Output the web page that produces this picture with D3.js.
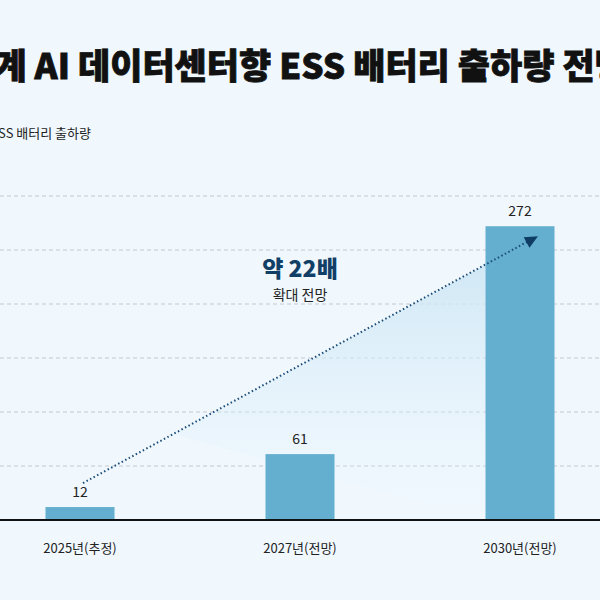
<!DOCTYPE html>
<html><head><meta charset="utf-8">
<script src="https://cdn.jsdelivr.net/npm/d3@7"></script>
<style>body{margin:0;background:#f0f8fe}</style>
</head><body><div id="app"></div>
<script>
const categories = ['2025년(추정)', '2027년(전망)', '2030년(전망)'];
const values = [12, 61, 272];
const gridValues = [50, 100, 150, 200, 250, 300];

const svg = d3.select('#app').append('svg')
  .attr('width', 600).attr('height', 600)
  .style('font-family', '"Noto Sans CJK KR", "Noto Sans", sans-serif');

svg.append('rect').attr('width', 600).attr('height', 600).attr('fill', '#f0f8fe');

const x = d3.scalePoint().domain(categories).range([-30, 630]).padding(0.5);
const y = d3.scaleLinear().domain([0, 300]).range([520, 196]);
const barW = 69;

// title (cropped at both edges like the original)
svg.append('text').attr('x', -70).attr('y', 79)
  .attr('font-size', 35).attr('font-weight', 900).attr('fill', '#111')
  .style('font-family', '"Noto Sans CJK KR Black", "Noto Sans CJK KR", sans-serif')
  .attr('stroke', '#111').attr('stroke-width', 0.8)
  .text('전세계 AI 데이터센터향 ESS 배터리 출하량 전망');

svg.append('text').attr('x', 91).attr('y', 138).attr('text-anchor', 'end')
  .attr('font-size', 13).attr('fill', '#222')
  .text('(GWh) ESS 배터리 출하량');

// grid
svg.selectAll('line.grid').data(gridValues).join('line')
  .attr('class', 'grid')
  .attr('x1', 0).attr('x2', 600)
  .attr('y1', d => y(d)).attr('y2', d => y(d))
  .attr('stroke', '#c4c9cd').attr('stroke-dasharray', '4,3');

const defs = svg.append('defs');
const grad = defs.append('linearGradient').attr('id', 'wedge')
  .attr('x1', 0).attr('y1', 0).attr('x2', 0).attr('y2', 1);
grad.append('stop').attr('offset', 0).attr('stop-color', '#cde6f4').attr('stop-opacity', 0.9);
grad.append('stop').attr('offset', 1).attr('stop-color', '#e4f2fb').attr('stop-opacity', 0);

const x0 = x(categories[0]) + 3, y0 = y(values[0]) - 24;
const x1 = x(categories[2]) + 18, y1 = y(values[2]) + 10;
const xb = x(categories[2]) - barW / 2;
const yb = y0 + (y1 - y0) * (xb - x0) / (x1 - x0);
svg.append('path')
  .attr('d', `M${x0 + 90},${y0 - 90 * (y0 - y1) / (x1 - x0)}L${xb},${yb}L${xb},${y(0)}Z`)
  .attr('fill', 'url(#wedge)');

// bars
svg.selectAll('rect.bar').data(values).join('rect')
  .attr('class', 'bar')
  .attr('x', (d, i) => x(categories[i]) - barW / 2)
  .attr('y', d => y(d)).attr('width', barW).attr('height', d => y(0) - y(d))
  .attr('fill', '#64aed0');

svg.selectAll('text.val').data(values).join('text')
  .attr('class', 'val').attr('text-anchor', 'middle')
  .attr('x', (d, i) => x(categories[i])).attr('y', d => y(d) - 10)
  .attr('font-size', 14).attr('fill', '#222').text(d => d);

// arrow over bars
svg.append('line').attr('x1', x0).attr('y1', y0).attr('x2', x1 - 6).attr('y2', y1 + 3)
  .attr('stroke', '#1b4c78').attr('stroke-width', 2).attr('stroke-dasharray', '1.5,2.5');
const ang = Math.atan2(y1 - y0, x1 - x0);
const tri = [[0, 0], [-13, -6], [-13, 6]].map(([a, b]) =>
  [x1 + a * Math.cos(ang) - b * Math.sin(ang), y1 + a * Math.sin(ang) + b * Math.cos(ang)]);
svg.append('path').attr('d', 'M' + tri.join('L') + 'Z').attr('fill', '#0f3c63');

// baseline
svg.append('line').attr('x1', 0).attr('x2', 600).attr('y1', y(0)).attr('y2', y(0))
  .attr('stroke', '#111').attr('stroke-width', 2);

svg.selectAll('text.cat').data(categories).join('text')
  .attr('class', 'cat').attr('text-anchor', 'middle')
  .attr('x', d => x(d)).attr('y', 553)
  .attr('font-size', 13).attr('fill', '#222').text(d => d);

// annotation
svg.append('text').attr('x', 300).attr('y', 277).attr('text-anchor', 'middle')
  .attr('font-size', 23).attr('font-weight', 900).attr('fill', '#123f66').text('약 22배');
svg.append('text').attr('x', 300).attr('y', 300).attr('text-anchor', 'middle')
  .attr('font-size', 14).attr('fill', '#222').text('확대 전망');
</script></body></html>
